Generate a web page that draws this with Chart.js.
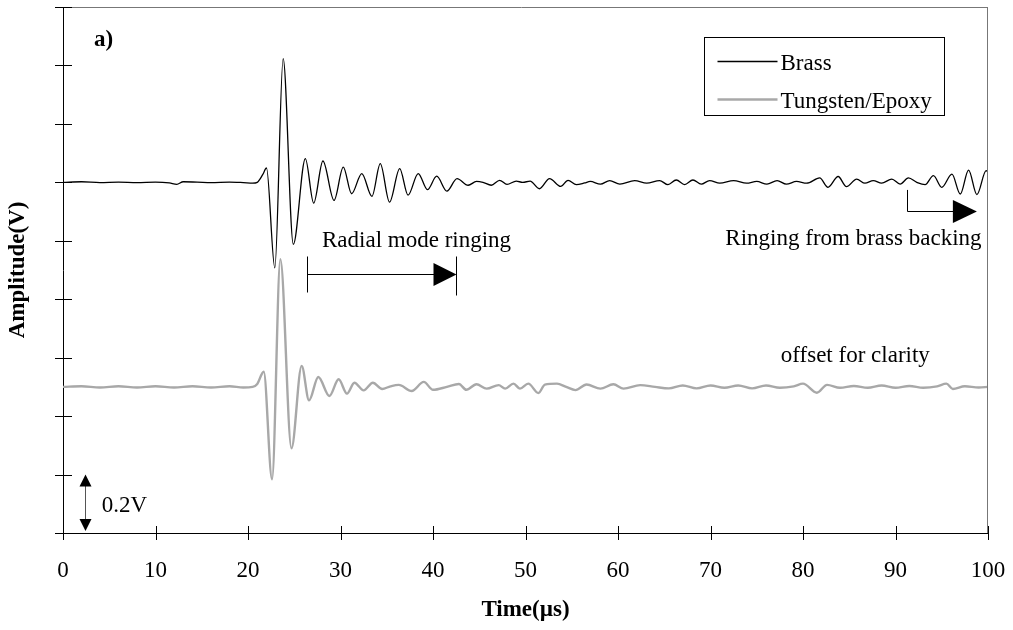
<!DOCTYPE html>
<html>
<head>
<meta charset="utf-8">
<script src="https://cdn.jsdelivr.net/npm/chart.js@4/dist/chart.umd.min.js"></script>
<style>
  html, body { margin: 0; padding: 0; background: #fff; }
  canvas { display: block; }
</style>
</head>
<body>
<canvas id="chart-wave" width="1013" height="630"></canvas>
<script>
// Time axis (µs) and signal (V, relative to each trace's own baseline)
const brassTime = [0, 2, 4, 6, 8, 10, 11.5, 12.3, 13, 14.5, 16, 18, 19.5, 20.5, 21.0, 21.6, 22.0, 22.9, 23.8, 24.9,
    26.2, 27.1, 28.1, 29.3, 30.3, 31.2, 32.3, 33.4, 34.3, 35.3, 36.4, 37.3, 38.4, 39.4, 40.4, 41.5, 42.6, 43.8, 44.7, 45.4,
    46.3, 47.2, 48.0, 49.0, 49.7, 50.5, 51.5, 52.6, 53.8, 54.6, 55.5, 56.4, 57.0, 58.1, 59.1, 60.2, 61.8, 63.1, 64.5, 65.4,
    66.3, 67.2, 68.1, 69.0, 69.9, 71.0, 72.5, 73.9, 75.0, 76.1, 77.2, 78.2, 79.3, 80.4, 81.8, 82.7, 83.8, 84.7, 85.8, 86.7,
    87.6, 88.5, 89.6, 90.5, 91.4, 92.3, 93.2, 94.1, 95.0, 96.1, 97.0, 97.9, 98.8, 99.8, 100];
const brassVolts = [0, 0.002, -0.001, 0.001, -0.001, 0.001, -0.002, -0.007, 0.002, 0.001, -0.001, 0.001, -0.001, -0.003, 0, 0.027, 0.049, -0.293, 0.423, -0.212,
    0.081, -0.071, 0.073, -0.062, 0.052, -0.039, 0.030, -0.048, 0.064, -0.068, 0.047, -0.044, 0.030, -0.025, 0.021, -0.030, 0.013, -0.010, 0.003, 0,
    -0.010, 0.007, -0.007, 0.004, 0, 0.004, -0.022, 0.013, -0.014, 0.007, -0.008, -0.002, 0.003, -0.006, 0.006, -0.006, 0.006, -0.003, 0.006, -0.008,
    0.008, -0.008, 0.008, -0.006, 0.006, -0.003, 0.006, -0.003, 0.003, -0.006, 0.006, -0.006, 0.003, -0.003, 0.015, -0.017, 0.020, -0.015, 0.011, -0.003,
    0.006, -0.003, 0.011, -0.006, 0.015, 0, -0.008, 0.023, -0.017, 0.028, -0.040, 0.042, -0.042, 0.040, 0.035];

const tungstenTime = [0, 2, 4, 6, 8, 10, 12, 14, 16, 18, 19.5, 20.5, 21.0, 21.7, 22.6, 23.5, 24.7, 25.8, 26.6, 27.6,
    28.8, 29.8, 30.7, 31.5, 32.5, 33.5, 34.5, 35.4, 36.3, 37.7, 39.0, 40.0, 41.5, 42.8, 43.6, 44.7, 45.8, 47.1, 47.8, 48.7,
    49.4, 50.3, 51.4, 52.1, 53.4, 54.4, 55.4, 56.6, 58.1, 59.5, 60.6, 62.4, 64, 65.5, 67, 68.5, 70, 71.5, 73, 74.5,
    76, 77.5, 79, 80.0, 81.5, 82.6, 84, 85.5, 87, 88.5, 90, 91.5, 93, 94.5, 95.5, 96.2, 97.5, 99, 100];
const tungstenVolts = [0, 0.002, -0.002, 0.002, -0.002, 0.002, -0.002, 0.002, -0.002, 0.002, -0.002, 0, 0.010, 0.052, -0.316, 0.437, -0.210, 0.072, -0.046, 0.034,
    -0.031, 0.026, -0.023, 0.014, -0.012, 0.014, -0.007, 0.002, 0.007, -0.014, 0.017, -0.010, 0, 0.010, -0.010, 0.009, -0.006, 0.006, -0.006, 0.011,
    -0.006, 0.011, -0.021, 0.008, 0.011, 0, -0.011, 0.008, -0.006, 0.009, -0.006, 0.006, 0, -0.005, 0.005, -0.005, 0.005, -0.003, 0.005, -0.005,
    0.005, -0.003, 0.002, 0.011, -0.020, 0.007, -0.003, 0.003, -0.003, 0.005, -0.003, 0.003, -0.003, 0.002, 0.011, -0.007, 0.002, -0.002, 0];

const BRASS_OFFSET = 1.2;     // traces offset for clarity
const TUNGSTEN_OFFSET = 0.5;

const xTicks = { min: 0, max: 100, step: 10 };
const yTicks = { min: 0, max: 1.8, step: 0.2 };

const SERIF = '"Liberation Serif", "Times New Roman", serif';
const FONT_SIZE = 23;

function toPoints(times, volts, offset) {
    return times.map((t, i) => ({ x: t, y: volts[i] + offset }));
}

// Frame, crossing ticks, legend box and text notes
const overlayPlugin = {
    id: 'overlay',
    afterDraw(chart) {
        const { ctx, chartArea: a, scales: { x, y } } = chart;
        const line = (x1, y1, x2, y2) => {
            ctx.beginPath(); ctx.moveTo(x1, y1); ctx.lineTo(x2, y2); ctx.stroke();
        };
        const headRight = (tipX, cy, len, half) => {
            ctx.beginPath(); ctx.moveTo(tipX, cy); ctx.lineTo(tipX - len, cy - half); ctx.lineTo(tipX - len, cy + half);
            ctx.closePath(); ctx.fill();
        };
        const text = (str, px, py, align = 'left', bold = false) => {
            ctx.font = `${bold ? 'bold ' : ''}${FONT_SIZE}px ${SERIF}`;
            ctx.textAlign = align;
            ctx.textBaseline = 'alphabetic';
            ctx.fillText(str, px, py);
        };
        ctx.save();
        ctx.lineWidth = 1;

        // top + right frame
        ctx.strokeStyle = '#777';
        line(a.left - 8, a.top + 0.5, a.right, a.top + 0.5);
        line(a.right - 0.5, a.top, a.right - 0.5, a.bottom);

        // ticks that cross the axes
        ctx.strokeStyle = '#000';
        x.ticks.forEach(t => {
            const px = Math.round(x.getPixelForValue(t.value)) + 0.5;
            line(px, a.bottom - 7, px, a.bottom + 7);
        });
        y.ticks.forEach(t => {
            const py = Math.round(y.getPixelForValue(t.value)) + 0.5;
            line(a.left - 8, py, a.left + 9, py);
        });

        ctx.fillStyle = '#000';
        text('a)', x.getPixelForValue(3.35), 46, 'left', true);

        // legend
        const bx = a.right - 283.5, by = a.top + 30.5;
        ctx.strokeStyle = '#000';
        ctx.strokeRect(bx, by, 240, 78);
        chart.data.datasets.forEach((ds, i) => {
            const ly = by + 24 + i * 38;
            ctx.strokeStyle = ds.borderColor;
            ctx.lineWidth = ds.borderWidth;
            line(bx + 13, ly, bx + 73, ly);
            text(ds.label, bx + 76, ly + 8);
        });
        ctx.lineWidth = 1;
        ctx.strokeStyle = '#000';

        // radial mode ringing arrow
        const r0 = Math.round(x.getPixelForValue(26.4)) + 0.5;
        const r1 = Math.round(x.getPixelForValue(42.5)) + 0.5;
        const ry = Math.round(y.getPixelForValue(0.885)) + 0.5;
        line(r0, ry - 18, r0, ry + 18);
        line(r1, ry - 18, r1, ry + 21);
        line(r0, ry, r1 - 20, ry);
        headRight(r1, ry, 23, 11.5);
        text('Radial mode ringing', x.getPixelForValue(28.0), y.getPixelForValue(0.979));

        // brass backing arrow
        const b0 = Math.round(x.getPixelForValue(91.2)) + 0.5;
        const b1 = x.getPixelForValue(98.8);
        const by0 = y.getPixelForValue(1.174);
        const by1 = Math.round(y.getPixelForValue(1.103)) + 0.5;
        line(b0, by0, b0, by1);
        line(b0, by1, b1 - 20, by1);
        headRight(b1, by1, 24, 11.5);
        text('Ringing from brass backing', x.getPixelForValue(99.3), y.getPixelForValue(0.986), 'right');

        text('offset for clarity', x.getPixelForValue(77.6), y.getPixelForValue(0.585));

        // 0.2V scale marker
        const sx = Math.round(x.getPixelForValue(2.4)) + 0.5;
        const s0 = y.getPixelForValue(0.2), s1 = y.getPixelForValue(0);
        ctx.strokeStyle = '#555';
        line(sx, s0 + 10, sx, s1 - 10);
        ctx.beginPath(); ctx.moveTo(sx, s0); ctx.lineTo(sx - 6, s0 + 12); ctx.lineTo(sx + 6, s0 + 12); ctx.closePath(); ctx.fill();
        ctx.beginPath(); ctx.moveTo(sx, s1 - 2); ctx.lineTo(sx - 6, s1 - 14); ctx.lineTo(sx + 6, s1 - 14); ctx.closePath(); ctx.fill();
        text('0.2V', x.getPixelForValue(4.2), y.getPixelForValue(0.1) + 8);

        ctx.restore();
    }
};

new Chart(document.getElementById('chart-wave'), {
    type: 'line',
    data: {
        datasets: [
            {
                label: 'Brass',
                data: toPoints(brassTime, brassVolts, BRASS_OFFSET),
                borderColor: '#000',
                borderWidth: 1.3,
                pointRadius: 0,
                cubicInterpolationMode: 'monotone'
            },
            {
                label: 'Tungsten/Epoxy',
                data: toPoints(tungstenTime, tungstenVolts, TUNGSTEN_OFFSET),
                borderColor: '#a8a8a8',
                borderWidth: 2.4,
                pointRadius: 0,
                cubicInterpolationMode: 'monotone'
            }
        ]
    },
    options: {
        responsive: false,
        animation: false,
        events: [],
        layout: { padding: { left: 0, right: 25, top: 7, bottom: 0 } },
        plugins: { legend: { display: false }, tooltip: { enabled: false } },
        scales: {
            x: {
                type: 'linear',
                min: xTicks.min,
                max: xTicks.max,
                grid: { display: false, drawTicks: false },
                border: { color: '#000', width: 1 },
                ticks: {
                    stepSize: xTicks.step,
                    color: '#000',
                    padding: 24,
                    maxRotation: 0,
                    font: { family: SERIF, size: FONT_SIZE }
                },
                title: {
                    display: true,
                    text: 'Time(µs)',
                    color: '#000',
                    padding: { top: 0, bottom: 6 },
                    font: { family: SERIF, size: FONT_SIZE, weight: 'bold' }
                },
                afterFit: s => { s.height = 97; s.paddingLeft = 0; s.paddingRight = 0; }
            },
            y: {
                min: yTicks.min,
                max: yTicks.max,
                grid: { display: false, drawTicks: false },
                border: { color: '#000', width: 1 },
                ticks: { stepSize: yTicks.step, display: false },
                title: {
                    display: true,
                    text: 'Amplitude(V)',
                    color: '#000',
                    padding: { top: 4, bottom: 0 },
                    font: { family: SERIF, size: FONT_SIZE, weight: 'bold' }
                },
                afterFit: s => { s.width = 63; s.paddingTop = 0; s.paddingBottom = 0; }
            }
        }
    },
    plugins: [overlayPlugin]
});
</script>
</body>
</html>
